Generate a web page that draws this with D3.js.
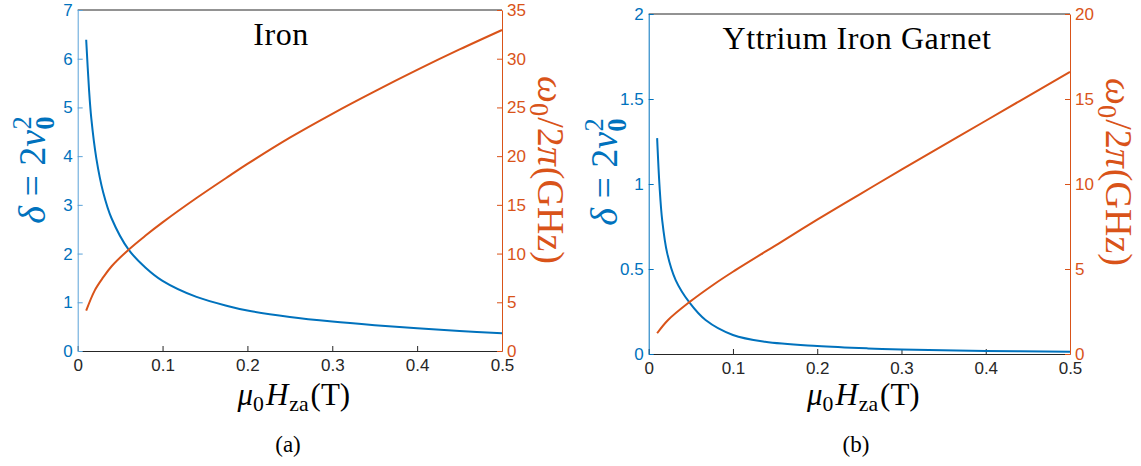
<!DOCTYPE html>
<html>
<head>
<meta charset="utf-8">
<script src="https://cdn.jsdelivr.net/npm/d3@7"></script>
<style>
body { margin: 0; background: #fff; }
svg { display: block; }
</style>
</head>
<body>
<div class="chart"></div>
<script>
// values
const fieldTicks = [0, 0.1, 0.2, 0.3, 0.4, 0.5];
const fieldTickLabels = ["0", "0.1", "0.2", "0.3", "0.4", "0.5"];

const ironDeltaTicks = [0, 1, 2, 3, 4, 5, 6, 7];
const ironFreqTicks = [0, 5, 10, 15, 20, 25, 30, 35];
const yigDeltaTicks = [0, 0.5, 1, 1.5, 2];
const yigDeltaTickLabels = ["0", "0.5", "1", "1.5", "2"];
const yigFreqTicks = [0, 5, 10, 15, 20];

// Iron
const ironDeltaField = [0.01, 0.0133, 0.016, 0.022, 0.03, 0.04, 0.06, 0.08, 0.1, 0.14, 0.18, 0.2, 0.25, 0.3, 0.35, 0.4, 0.45, 0.5];
const ironDelta = [6.39, 5.38, 4.78, 3.95, 3.26, 2.72, 2.08, 1.71, 1.44, 1.11, 0.91, 0.83, 0.70, 0.605, 0.53, 0.465, 0.41, 0.365];
const ironFreqField = [0.01, 0.02, 0.03, 0.04, 0.06, 0.08, 0.1, 0.14, 0.18, 0.2, 0.25, 0.3, 0.35, 0.4, 0.45, 0.5];
const ironFreq = [4.14, 6.2, 7.55, 8.7, 10.4, 11.85, 13.2, 15.7, 18.05, 19.2, 21.9, 24.35, 26.65, 28.85, 30.95, 32.95];

// Yttrium Iron Garnet
const yigDeltaField = [0.01, 0.0129, 0.016, 0.022, 0.032, 0.0485, 0.0675, 0.1, 0.138, 0.2, 0.26, 0.3, 0.4, 0.5];
const yigDelta = [1.27, 0.984, 0.788, 0.592, 0.435, 0.302, 0.20, 0.112, 0.072, 0.047, 0.033, 0.027, 0.018, 0.013];
const yigFreqField = [0.01, 0.023, 0.0475, 0.078, 0.1, 0.1575, 0.2, 0.25, 0.3, 0.4, 0.5];
const yigFreq = [1.22, 2.0, 3.02, 4.12, 4.84, 6.6, 7.9, 9.38, 10.84, 13.72, 16.6];

const blue = "#0072BD", orange = "#D95319", dark = "#262626";
const serif = "'Liberation Serif', 'Times New Roman', serif";
const sans = "'Liberation Sans', Arial, Helvetica, sans-serif";

const svg = d3.select(".chart")
    .append("svg")
    .attr("width", 1141)
    .attr("height", 466);

// writes a list of styled pieces into a text element
function addSpans(text, parts, size) {
    parts.forEach(p => {
        text.append("tspan")
            .attr("font-size", size * (p.s || 1))
            .attr("font-style", p.it ? "italic" : "normal")
            .attr("font-weight", p.b ? "bold" : "normal")
            .attr("dx", p.dx || 0)
            .attr("dy", p.dy || 0)
            .text(p.t);
    });
}

function drawPanel(cfg) {
    const x = d3.scaleLinear().domain([0, 0.5]).range([cfg.left, cfg.right]);
    const yL = d3.scaleLinear().domain([0, cfg.leftTicks[cfg.leftTicks.length - 1]]).range([cfg.bottom, cfg.top]);
    const yR = d3.scaleLinear().domain([0, cfg.rightTicks[cfg.rightTicks.length - 1]]).range([cfg.bottom, cfg.top]);

    // top edge of the box
    svg.append("line")
        .attr("x1", cfg.left).attr("x2", cfg.right)
        .attr("y1", cfg.top).attr("y2", cfg.top)
        .attr("stroke", dark).attr("stroke-width", 1);

    const gx = svg.append("g")
        .attr("transform", `translate(0,${cfg.bottom})`)
        .call(d3.axisBottom(x).tickValues(fieldTicks)
            .tickFormat((d, i) => fieldTickLabels[i])
            .tickSizeInner(-5).tickSizeOuter(0).tickPadding(8));

    const gl = svg.append("g")
        .attr("transform", `translate(${cfg.left},0)`)
        .call(d3.axisLeft(yL).tickValues(cfg.leftTicks)
            .tickFormat((d, i) => cfg.leftLabels[i])
            .tickSizeInner(-5).tickSizeOuter(0).tickPadding(5));

    const gr = svg.append("g")
        .attr("transform", `translate(${cfg.right},0)`)
        .call(d3.axisRight(yR).tickValues(cfg.rightTicks)
            .tickSizeInner(-5).tickSizeOuter(0).tickPadding(5));

    [[gx, dark], [gl, cfg.leftAxisColor], [gr, orange]].forEach(([g, c]) => {
        g.attr("color", c).attr("font-family", sans).attr("font-size", 17);
    });
    gl.selectAll("text").attr("fill", blue);
    gx.selectAll("text").attr("fill", dark);

    // curves
    const curve = d3.curveCatmullRom.alpha(0.5);
    const lineL = d3.line().x(d => x(d[0])).y(d => yL(d[1])).curve(curve);
    const lineR = d3.line().x(d => x(d[0])).y(d => yR(d[1])).curve(curve);

    svg.append("path")
        .datum(d3.zip(cfg.deltaField, cfg.delta))
        .attr("d", lineL)
        .attr("fill", "none").attr("stroke", blue).attr("stroke-width", 2);

    svg.append("path")
        .datum(d3.zip(cfg.freqField, cfg.freq))
        .attr("d", lineR)
        .attr("fill", "none").attr("stroke", orange).attr("stroke-width", 2);

    // title
    svg.append("text")
        .attr("x", cfg.titleX).attr("y", cfg.titleY)
        .attr("text-anchor", "middle")
        .attr("font-family", serif).attr("font-size", 32)
        .attr("letter-spacing", 0.6)
        .attr("fill", "#000")
        .text(cfg.title);

    // left label: delta = 2 v_0^2
    const ly = svg.append("text")
        .attr("transform", `translate(${cfg.leftLabelX},${cfg.labelY}) rotate(-90)`)
        .attr("text-anchor", "middle")
        .attr("font-family", serif).attr("fill", blue);
    addSpans(ly, [
        { t: "δ", it: true }, { t: " = " }, { t: "2" }, { t: "v", it: true },
        { t: "0", b: true, s: 0.7, dy: 9 }, { t: "2", s: 0.7, dx: -13, dy: -23 }
    ], 38);

    // right label: omega_0 / 2 pi (GHz)
    const ry = svg.append("text")
        .attr("transform", `translate(${cfg.rightLabelX},${cfg.labelY}) rotate(90)`)
        .attr("text-anchor", "middle")
        .attr("font-family", serif).attr("fill", orange);
    addSpans(ry, [
        { t: "ω", it: true }, { t: "0", s: 0.7, dy: 8 }, { t: "/", dy: -8, dx: 1 },
        { t: "2" }, { t: "π", it: true }, { t: "(GHz)", dx: 1 }
    ], 38);

    // x label: mu_0 H_za (T)
    const xl = svg.append("text")
        .attr("x", (cfg.left + cfg.right) / 2 + 4).attr("y", 405)
        .attr("text-anchor", "middle")
        .attr("font-family", serif).attr("fill", "#000");
    addSpans(xl, [
        { t: "μ", it: true }, { t: "0", s: 0.7, dy: 6 }, { t: "H", it: true, dy: -6, dx: 2 },
        { t: "za", s: 0.7, dy: 6, dx: 1 }, { t: "(T)", dy: -6, dx: 2 }
    ], 31);

    svg.append("text")
        .attr("x", cfg.captionX).attr("y", 452)
        .attr("text-anchor", "middle")
        .attr("font-family", serif).attr("font-size", 23)
        .attr("fill", "#000")
        .text(cfg.caption);
}

drawPanel({
    left: 77.7, right: 502, top: 10, bottom: 351,
    leftTicks: ironDeltaTicks, leftLabels: ironDeltaTicks.map(String),
    rightTicks: ironFreqTicks, leftAxisColor: "#5aa2d8",
    deltaField: ironDeltaField, delta: ironDelta,
    freqField: ironFreqField, freq: ironFreq,
    title: "Iron", titleX: 281, titleY: 45,
    leftLabelX: 45, rightLabelX: 538, labelY: 170,
    caption: "(a)", captionX: 288
});

drawPanel({
    left: 648.7, right: 1070, top: 14, bottom: 354,
    leftTicks: yigDeltaTicks, leftLabels: yigDeltaTickLabels,
    rightTicks: yigFreqTicks, leftAxisColor: blue,
    deltaField: yigDeltaField, delta: yigDelta,
    freqField: yigFreqField, freq: yigFreq,
    title: "Yttrium Iron Garnet", titleX: 857, titleY: 49,
    leftLabelX: 617, rightLabelX: 1106, labelY: 172,
    caption: "(b)", captionX: 856
});
</script>
</body>
</html>
